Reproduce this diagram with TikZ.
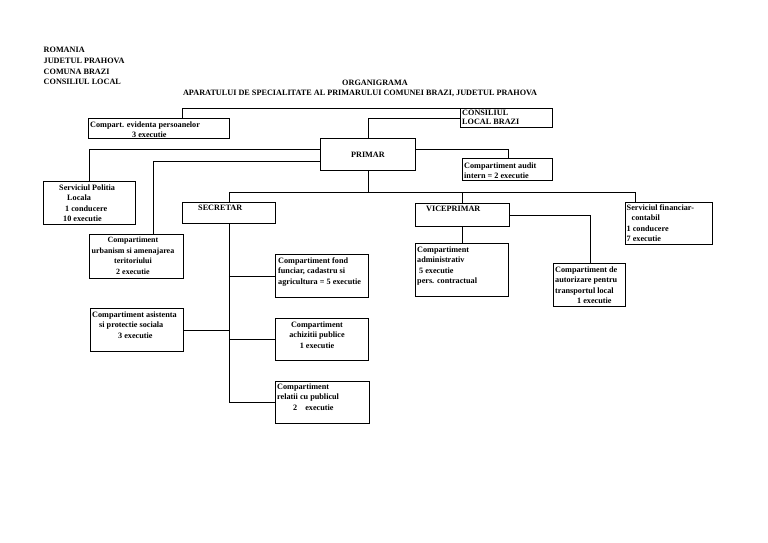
\documentclass[tikz,border=0pt]{standalone}
\usepackage{fontspec}
\setmainfont{Liberation Serif}
\begin{document}
\begin{tikzpicture}[x=1pt,y=-1pt,
  box/.style={draw=black, line width=0.9pt, inner sep=0pt, anchor=north west},
  txt/.style={font=\fontsize{8.2}{10.5}\selectfont\bfseries, inner sep=0pt, align=left, anchor=north west},
  ctxt/.style={txt, align=center, anchor=north},
  hdr/.style={font=\fontsize{8.2}{10.7}\selectfont\bfseries, inner sep=0pt, align=left, anchor=north west},
  ttl/.style={font=\fontsize{8.2}{10}\selectfont\bfseries, inner sep=0pt, anchor=north},
  link/.style={draw=black, line width=0.9pt}]
\useasboundingbox[fill=white] (0,0) rectangle (768,543);

% header
\node[hdr] (hdr) at (43.5,47.2) {ROMANIA\\JUDETUL PRAHOVA\\COMUNA BRAZI\\CONSILIUL LOCAL};
\node[ttl] (t1) at (375,80.2) {ORGANIGRAMA};
\node[ttl] (t2) at (360,90.2) {APARATULUI DE SPECIALITATE AL PRIMARULUI COMUNEI BRAZI, JUDETUL PRAHOVA};

% boxes
\node[box, minimum width=141pt, minimum height=20pt] (cep) at (88,118) {};
\node[box, minimum width=92pt, minimum height=19pt] (cons) at (460,108) {};
\node[box, minimum width=95pt, minimum height=32pt, font=\fontsize{8.2}{10}\selectfont\bfseries] (primar) at (320,138) {PRIMAR};
\node[box, minimum width=90pt, minimum height=22pt] (audit) at (462,158) {};
\node[box, minimum width=92pt, minimum height=43pt] (politia) at (43,181) {};
\node[box, minimum width=93pt, minimum height=21pt] (secretar) at (182,202) {};
\node[box, minimum width=94pt, minimum height=23pt] (vice) at (415,203) {};
\node[box, minimum width=87pt, minimum height=42pt] (fin) at (625,202) {};
\node[box, minimum width=94pt, minimum height=44pt] (urb) at (88.5,234) {};
\node[box, minimum width=93pt, minimum height=43pt] (fond) at (275,254) {};
\node[box, minimum width=93pt, minimum height=43pt] (asist) at (90,308) {};
\node[box, minimum width=93pt, minimum height=42pt] (achiz) at (275,318) {};
\node[box, minimum width=94pt, minimum height=42pt] (relatii) at (275,381) {};
\node[box, minimum width=93pt, minimum height=53pt] (admin) at (415,243) {};
\node[box, minimum width=72pt, minimum height=43pt] (autor) at (553,263) {};

% texts
\node[txt] (tcep) at (90,121.2) {Compart. evidenta persoanelor\\\hspace*{42pt}3 executie};
\node[txt, font=\fontsize{8.2}{9.2}\selectfont\bfseries] (tcons) at (462,109.6) {CONSILIUL\\LOCAL BRAZI};
\node[txt, font=\fontsize{8.2}{10}\selectfont\bfseries] (taudit) at (464,162.2) {Compartiment audit\\intern = 2 executie};
\node[txt] (tpol) at (59,184.2) {Serviciul Politia\\\hspace*{8pt}Locala\\\hspace*{6pt}1 conducere\\\hspace*{4pt}10 executie};
\node[txt] (tsec) at (198,205.2) {SECRETAR};
\node[txt] (tvice) at (426,206.2) {VICEPRIMAR};
\node[txt] (tfin) at (626.5,204.2) {Serviciul financiar-\\\hspace*{5pt}contabil\\1 conducere\\7 executie};
\node[ctxt, font=\fontsize{8}{10.5}\selectfont\bfseries] (turb) at (133,237.2) {Compartiment\\urbanism si amenajarea\\teritoriului\\2 executie};
\node[txt] (tfond) at (278,257.2) {Compartiment fond\\funciar, cadastru si\\agricultura = 5 executie};
\node[txt] (tasist) at (92,311.2) {Compartiment asistenta\\\hspace*{7pt}si protectie sociala\\\hspace*{26pt}3 executie};
\node[ctxt] (tachiz) at (317,321.2) {Compartiment\\achizitii publice\\1 executie};
\node[txt] (trel) at (277,383.2) {Compartiment\\relatii cu publicul\\\hspace*{16pt}2\hspace{6pt} executie};
\node[txt] (tadmin) at (417,246.2) {Compartiment\\administrativ\\\hspace*{2pt}5 executie\\pers. contractual};
\node[txt] (tautor) at (555,266.2) {Compartiment de\\autorizare pentru\\transportul local\\\hspace*{22pt}1 executie};

% helper coordinates
\coordinate (h118) at (0,118);
\coordinate (h149) at (0,149);
\coordinate (h161) at (0,161);
\coordinate (h192) at (0,192);
\coordinate (v182) at (182,0);
\coordinate (v153) at (153,0);
\coordinate (v508) at (508,0);
\coordinate (v635) at (635,0);
\coordinate (v590) at (590,0);

% connectors
\draw[link] (cons.west |- h118) -| (primar.north);
\draw[link] (cons.north west) -| (v182 |- cep.north);
\draw[link] (primar.west |- h149) -| (politia.north);
\draw[link] (primar.west |- h161) -| (v153 |- urb.north);
\draw[link] (primar.east |- h149) -| (v508 |- audit.north);
\draw[link] (primar.south) -- (primar.south |- h192);
\draw[link] (secretar.north) -- (secretar.north |- h192) -- (v635 |- h192) -- (v635 |- fin.north);
\draw[link] (vice.north) -- (vice.north |- h192);
\draw[link] (secretar.south) |- (relatii.west);
\draw[link] (secretar.south |- fond.west) -- (fond.west);
\draw[link] (asist.east) -- (asist.east -| secretar.south);
\draw[link] (secretar.south |- achiz.west) -- (achiz.west);
\draw[link] (vice.south) -- (vice.south |- admin.north);
\draw[link] (vice.east) -| (v590 |- autor.north);
\end{tikzpicture}
\end{document}
